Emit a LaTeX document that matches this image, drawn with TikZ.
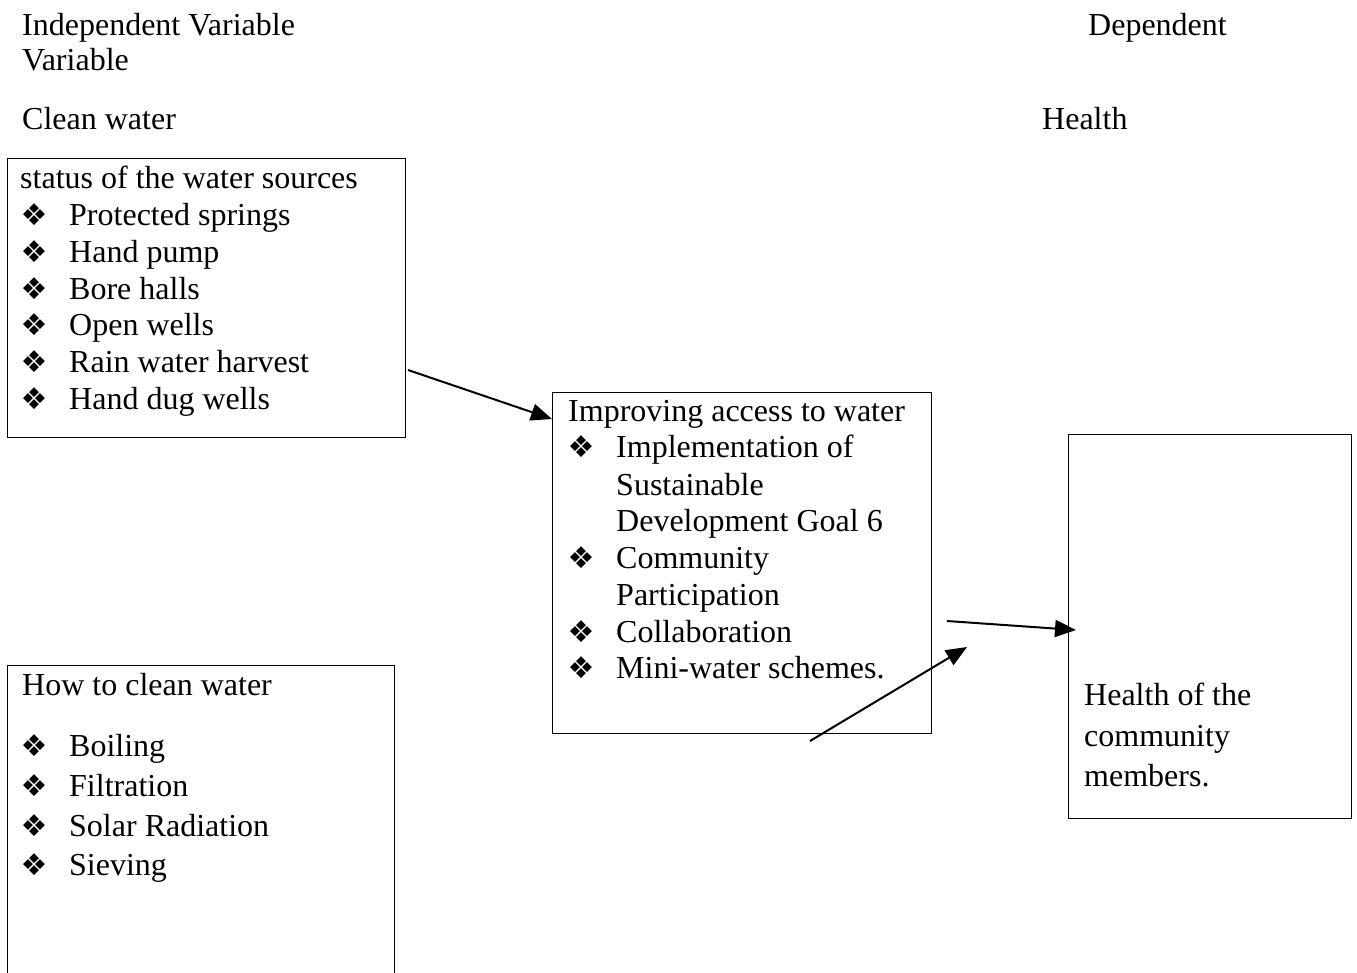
\documentclass[tikz,border=0pt]{standalone}
\usepackage{fontspec}
\setmainfont{Liberation Serif}
\newfontfamily\djfont{DejaVu Sans}
\usetikzlibrary{arrows.meta}
\begin{document}
\begin{tikzpicture}[x=1pt,y=-1pt,
  txt/.style={anchor=base west,inner sep=0pt,font=\fontsize{32}{36.8}\selectfont},
  bul/.style={anchor=center,inner sep=0pt,font=\djfont\bfseries\fontsize{30}{32}\selectfont},
  boxrect/.style={draw,line width=1.3pt,anchor=north west,inner sep=0pt},
  conn/.style={line width=2pt,-{Triangle[length=21pt,width=17pt]}}]
\useasboundingbox (0,0) rectangle (1357,972);
% headers
\node[txt] (iv) at (22,35) {Independent Variable};
\node[txt] (iv2) at (22,70) {Variable};
\node[txt] (dv) at (1088,35) {Dependent};
\node[txt] (cw) at (22,129) {Clean water};
\node[txt] (hl) at (1042,129) {Health};
% box 1
\node[boxrect,minimum width=398pt,minimum height=279pt] (box1) at (7,158) {};
\node[txt] (b1t) at (20,188) {status of the water sources};
\foreach \y/\t [count=\i] in {225/Protected springs,262/Hand pump,299/Bore halls,335/Open wells,372/Rain water harvest,409/Hand dug wells}{
  \node[bul] (b1b\i) at (34,\y-10) {❖};
  \node[txt] (b1l\i) at (69,\y) {\t};
}
% box 2
\node[boxrect,minimum width=387pt,minimum height=320pt] (box2) at (7,665) {};
\node[txt] (b2t) at (22,695) {How to clean water};
\foreach \y/\t [count=\i] in {756/Boiling,796/Filtration,836/Solar Radiation,875/Sieving}{
  \node[bul] (b2b\i) at (34,\y-10) {❖};
  \node[txt] (b2l\i) at (69,\y) {\t};
}
% box 3
\node[boxrect,minimum width=379pt,minimum height=341pt] (box3) at (552,392) {};
\node[txt] (b3t) at (568,421) {Improving access to water};
\node[bul] (b3b1) at (581,447) {❖};
\node[txt] (b3l1) at (616,457) {Implementation of};
\node[txt] (b3l2) at (616,495) {Sustainable};
\node[txt] (b3l3) at (616,531) {Development Goal 6};
\node[bul] (b3b2) at (581,558) {❖};
\node[txt] (b3l4) at (616,568) {Community};
\node[txt] (b3l5) at (616,605) {Participation};
\node[bul] (b3b3) at (581,632) {❖};
\node[txt] (b3l6) at (616,642) {Collaboration};
\node[bul] (b3b4) at (581,668) {❖};
\node[txt] (b3l7) at (616,678) {Mini-water schemes.};
% box 4
\node[boxrect,minimum width=283pt,minimum height=384pt] (box4) at (1068,434) {};
\node[txt] (b4l1) at (1084,705) {Health of the};
\node[txt] (b4l2) at (1084,746) {community};
\node[txt] (b4l3) at (1084,786) {members.};
% connectors
\coordinate (a1s) at (408,370);
\coordinate (a1e) at (552,419);
\coordinate (a2s) at (947,621);
\coordinate (a2e) at (1076,630);
\coordinate (a3s) at (810,741);
\coordinate (a3e) at (967,647);
\draw[conn] (a1s) -- (a1e);
\draw[conn] (a2s) -- (a2e);
\draw[conn] (a3s) -- (a3e);
\end{tikzpicture}
\end{document}
